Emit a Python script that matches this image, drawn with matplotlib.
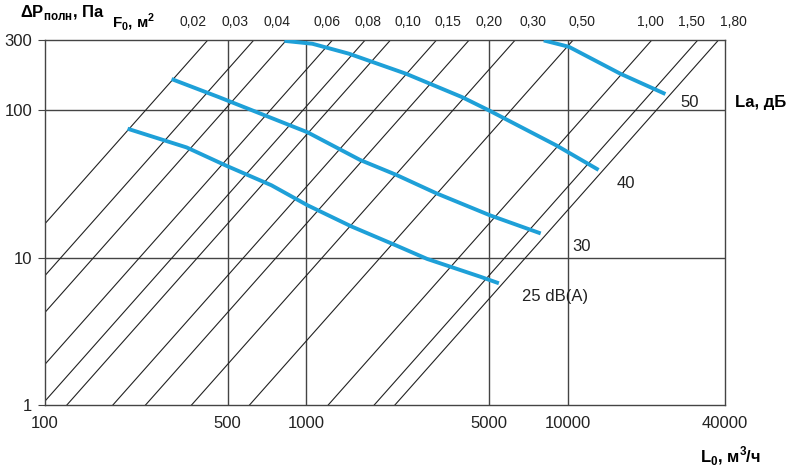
import numpy as np
import matplotlib
matplotlib.use("Agg")
import matplotlib.pyplot as plt

plt.rcParams['font.family'] = ['Liberation Sans', 'DejaVu Sans']

F_values = [0.02, 0.03, 0.04, 0.06, 0.08, 0.10, 0.15, 0.20, 0.30, 0.50, 1.00, 1.50, 1.80]
F_labels = ["0,02", "0,03", "0,04", "0,06", "0,08", "0,10", "0,15", "0,20", "0,30", "0,50", "1,00", "1,50", "1,80"]
K_top = 21000  # L/F at dP = 300 Pa

c25_L = [207, 348, 495, 735, 1009, 1486, 2206, 2900, 4656, 5455]
c25_P = [75, 56, 42, 31, 22.7, 16.3, 12.1, 9.8, 7.4, 6.7]
c30_L = [305, 462, 1009, 1607, 2206, 3135, 5036, 7887]
c30_P = [163, 123, 71, 46, 36.5, 27.4, 19.4, 14.6]
c40_L = [824, 1054, 1458, 2408, 3938, 4990, 9080, 13130]
c40_P = [296, 283, 242, 177, 123, 100, 57.6, 39.4]
c50_L = [8100, 10100, 15920, 23660]
c50_P = [298, 270, 177, 129]

x_ticks = [100, 500, 1000, 5000, 10000, 40000]
y_ticks = [1, 10, 100, 300]

fig = plt.figure(figsize=(7.99, 4.69), dpi=100)
ax = fig.add_axes([45/799, 1-405/469, 680/799, 365/469])
ax.set_xscale('log'); ax.set_yscale('log')
ax.set_xlim(100, 40000); ax.set_ylim(1, 300)

gc = '#444444'
for v in [500, 1000, 5000, 10000]:
    ax.axvline(v, color=gc, lw=1.0, zorder=1)
for v in [10, 100]:
    ax.axhline(v, color=gc, lw=1.0, zorder=1)

L = np.logspace(2, np.log10(40000), 400)
for F in F_values:
    P = 300 * (L / (K_top * F))**2
    ax.plot(L, P, color='#222222', lw=0.8, zorder=2)

blue = '#1ea0d8'
for Lc, Pc in [(c25_L, c25_P), (c30_L, c30_P), (c40_L, c40_P), (c50_L, c50_P)]:
    ax.plot(Lc, Pc, color=blue, lw=2.8, solid_capstyle='butt', solid_joinstyle='round', zorder=3)

for s in ax.spines.values():
    s.set_color(gc); s.set_linewidth(1.0)
ax.minorticks_off()
ax.set_xticks(x_ticks)
ax.set_xticklabels([str(v) for v in x_ticks], fontsize=12, color='#222222')
ax.set_yticks(y_ticks)
ax.set_yticklabels([str(v) for v in y_ticks], fontsize=12, color='#222222')
ax.tick_params(axis='both', length=5, color=gc, pad=4)
ax.tick_params(axis='x', length=0, pad=8)

# top F labels, evenly laid out as in the reference
label_px = [193, 235, 277, 327, 368, 408, 448, 489, 533, 582, 650, 691, 733]
for px, lab in zip(label_px, F_labels):
    fig.text(px/799, 1-22/469, lab, ha='center', va='center', fontsize=10, color='#222222')

for txt, fx, fy in [("50", 0.934, 0.83), ("40", 0.841, 0.608), ("30", 0.775, 0.433), ("25 dB(A)", 0.701, 0.296)]:
    ax.text(fx, fy, txt, transform=ax.transAxes, fontsize=12, ha='left', va='center', color='#222222')

fig.text(20/799, 1-12/469, "ΔP$_{\\mathregular{полн}}$, Па", fontsize=12, fontweight='bold', va='center', ha='left')
fig.text(112/799, 1-22/469, "F$_{\\mathregular{0}}$, м$^{\\mathregular{2}}$", fontsize=11, fontweight='bold', va='center', ha='left')
fig.text(735/799, 1-102/469, "La, дБ", fontsize=12, fontweight='bold', va='center', ha='left')
fig.text(700/799, 1-456/469, "L$_{\\mathregular{0}}$, м$^{\\mathregular{3}}$/ч", fontsize=12, fontweight='bold', va='center', ha='left')

fig.savefig("out.png", dpi=100, facecolor='white')
